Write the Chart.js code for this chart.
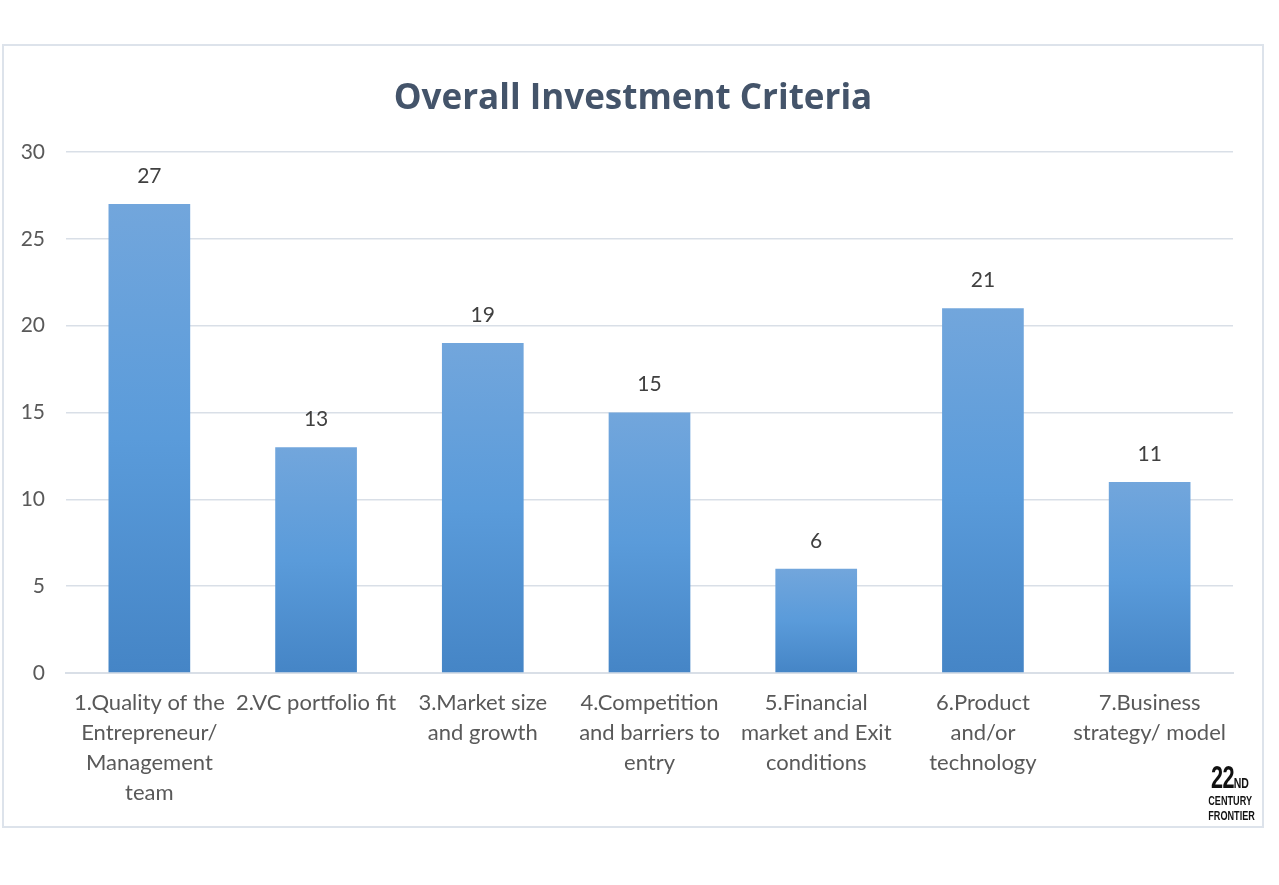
<!DOCTYPE html>
<html>
<head>
<meta charset="utf-8">
<script src="https://cdn.jsdelivr.net/npm/chart.js@4"></script>
<style>
  html, body { margin: 0; padding: 0; background: #fff; }
  body { width: 1279px; height: 885px; position: relative; overflow: hidden; }
  #frame {
    position: absolute; left: 2px; top: 44px;
    width: 1258px; height: 780px;
    border: 2px solid #dde3eb;
  }
  #frame canvas { display: block; }
  #logo {
    position: absolute; left: 1199px; top: 762px; width: 62px;
    font-family: "Liberation Sans", Arial, sans-serif;
    font-weight: bold; color: #111; text-align: center; line-height: 1;
    transform: scaleX(0.7); transform-origin: center top;
  }
  #logo .big { font-size: 31px; letter-spacing: -1px; }
  #logo .nd { font-size: 15px; }
  #logo .small { font-size: 13px; line-height: 15px; }
</style>
</head>
<body>
<div id="frame"><canvas id="chart" width="1258" height="780"></canvas></div>
<div id="logo"><span class="big">22</span><span class="nd">ND</span><div class="small">CENTURY</div><div class="small">FRONTIER</div></div>
<script>
const categories = [
    ['1.Quality of the', 'Entrepreneur/', 'Management', 'team'],
    ['2.VC portfolio fit'],
    ['3.Market size', 'and growth'],
    ['4.Competition', 'and barriers to', 'entry'],
    ['5.Financial', 'market and Exit', 'conditions'],
    ['6.Product', 'and/or', 'technology'],
    ['7.Business', 'strategy/ model']
];
const scores = [27, 13, 19, 15, 6, 21, 11];
const yTicks = [0, 5, 10, 15, 20, 25, 30];

const labelFont = "Lato, 'Open Sans', sans-serif";

// bar gradient built per bar from the y scale
function barFill(ctx) {
    const chart = ctx.chart;
    const y = chart.scales.y;
    if (!y || ctx.dataIndex === undefined) return '#5b9bd5';
    const top = y.getPixelForValue(scores[ctx.dataIndex]);
    const bottom = y.getPixelForValue(0);
    if (!isFinite(top) || !isFinite(bottom) || top === bottom) return '#5b9bd5';
    const g = chart.ctx.createLinearGradient(0, top, 0, bottom);
    g.addColorStop(0, '#72a6dc');
    g.addColorStop(0.5, '#5a9bda');
    g.addColorStop(1, '#4585c6');
    return g;
}

const valueLabels = {
    id: 'valueLabels',
    afterDatasetsDraw(chart) {
        const c = chart.ctx;
        const meta = chart.getDatasetMeta(0);
        c.save();
        c.font = '21px ' + labelFont;
        c.fillStyle = '#404040';
        c.textAlign = 'center';
        c.textBaseline = 'middle';
        meta.data.forEach((bar, i) => {
            c.fillText(String(scores[i]), bar.x, bar.y - 28);
        });
        c.restore();
    }
};

document.addEventListener('DOMContentLoaded', () => {
    const ctx = document.getElementById('chart').getContext('2d');
    new Chart(ctx, {
        type: 'bar',
        data: {
            labels: categories,
            datasets: [{
                data: scores,
                backgroundColor: barFill,
                borderWidth: 0,
                barPercentage: 1,
                categoryPercentage: 0.49
            }]
        },
        plugins: [valueLabels],
        options: {
            responsive: false,
            animation: false,
            layout: { padding: 0 },
            plugins: {
                legend: { display: false },
                tooltip: { enabled: false },
                title: {
                    display: true,
                    text: 'Overall Investment Criteria',
                    color: '#44546a',
                    font: { family: "'Open Sans', sans-serif", size: 35, weight: 'bold', lineHeight: 1.2 },
                    padding: { top: 32, bottom: 32 }
                }
            },
            scales: {
                x: {
                    grid: { display: false, drawTicks: false },
                    border: { display: true, color: '#d9dfe7', width: 2 },
                    ticks: {
                        color: '#595959',
                        font: { family: labelFont, size: 22, lineHeight: 1.36 },
                        padding: 15,
                        maxRotation: 0,
                        autoSkip: false
                    },
                    afterFit(scale) { scale.height = 153; }
                },
                y: {
                    min: 0,
                    max: 30,
                    afterBuildTicks(scale) { scale.ticks = yTicks.map(v => ({ value: v })); },
                    grid: { color: '#d9dfe7', lineWidth: 1.5, drawTicks: false },
                    border: { display: false },
                    ticks: {
                        color: '#595959',
                        font: { family: labelFont, size: 21 },
                        padding: 21
                    },
                    afterFit(scale) { scale.width = 62; }
                },
                // empty right axis, only reserves the margin on the right
                yRight: {
                    position: 'right',
                    min: 0,
                    max: 30,
                    grid: { display: false, drawTicks: false },
                    border: { display: false },
                    ticks: { display: false },
                    afterFit(scale) { scale.width = 29; }
                }
            }
        }
    });
});
</script>
</body>
</html>
